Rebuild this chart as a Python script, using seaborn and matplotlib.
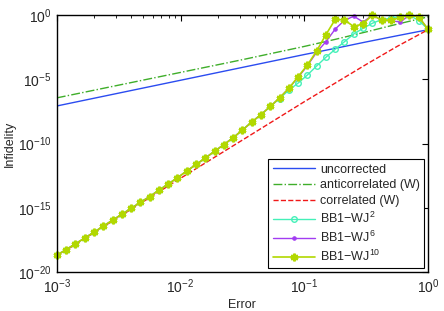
import numpy as np
import pandas as pd
import seaborn as sns
import matplotlib
matplotlib.use("Agg")
import matplotlib.pyplot as plt
from matplotlib.ticker import LogLocator, NullLocator

# log10 of the error, one entry per simulated point
log_err = [-3.0, -2.925, -2.85, -2.775, -2.7, -2.625, -2.55, -2.475, -2.4, -2.325,
           -2.25, -2.175, -2.1, -2.025, -1.95, -1.875, -1.8, -1.725, -1.65, -1.575,
           -1.5, -1.425, -1.35, -1.275, -1.2, -1.125, -1.05, -0.975, -0.9, -0.825,
           -0.75, -0.675, -0.6, -0.525, -0.45, -0.375, -0.3, -0.225, -0.15, -0.075, 0.0]

# log10 infidelity of the BB1-WJ sequences
bb1_common = [-18.68, -18.25, -17.8, -17.35, -16.9, -16.43, -15.96, -15.51, -15.04, -14.58,
              -14.12, -13.63, -13.15, -12.66, -12.14, -11.63, -11.13, -10.6, -10.08, -9.55,
              -8.95, -8.33, -7.75, -7.12]
wj2_tail = [-6.5, -5.85, -5.3, -4.67, -3.97, -3.29, -2.67, -2.08, -1.48, -1.04,
            -0.65, -0.36, -0.25, -0.13, -0.02, -0.44, -1.11]
wj6_tail = [-6.45, -5.71, -4.85, -3.95, -2.9, -2.08, -1.1, -0.42, -0.1, -0.55,
            -0.03, -0.4, -0.45, -0.55, -0.02, -0.15, -1.11]
wj10_tail = [-6.45, -5.71, -4.8, -3.9, -2.8, -1.53, -0.35, -0.39, -0.91, -0.68,
             -0.02, -0.39, -0.42, -0.2, -0.02, -0.15, -1.11]

# reference curves (straight-ish on log-log)
log_err_ref = [-3.0, -2.5, -2.0, -1.5, -1.0, -0.75, -0.5, -0.25, 0.0]
uncorrected = [-7.08, -6.08, -5.08, -4.08, -3.08, -2.6, -2.1, -1.62, -1.15]
anticorr = [-6.45, -5.46, -4.47, -3.48, -2.45, -1.9, -1.32, -0.72, -0.15]
corr = [-18.75, -15.72, -12.7, -9.73, -6.75, -5.3, -3.85, -2.45, -1.15]

err = 10 ** np.array(log_err)
err_ref = 10 ** np.array(log_err_ref)

sns.set_style("white")
plt.rcParams['font.family'] = ['Liberation Sans', 'DejaVu Sans']
plt.rcParams['mathtext.fontset'] = 'custom'
plt.rcParams['mathtext.rm'] = 'Liberation Sans'
plt.rcParams['mathtext.it'] = 'Liberation Sans:italic'

fig = plt.figure(figsize=(4.44, 3.11), dpi=100)
ax = fig.add_axes([0.128, 0.125, 0.836, 0.827])

sns.lineplot(x=err_ref, y=10 ** np.array(uncorrected), ax=ax, color='#2b4cf0',
             lw=1, label='uncorrected')
sns.lineplot(x=err_ref, y=10 ** np.array(anticorr), ax=ax, color='#3fae2a',
             lw=1, ls='-.', label='anticorrelated (W)')
sns.lineplot(x=err_ref, y=10 ** np.array(corr), ax=ax, color='#f01818',
             lw=1, ls='--', label='correlated (W)')
sns.lineplot(x=err, y=10 ** np.array(bb1_common + wj2_tail), ax=ax, color='#44f0b8',
             lw=1, marker='o', ms=4, mfc='none', mec='#44f0b8', mew=1, clip_on=False,
             label='BB1\u2212WJ$^{2}$')
sns.lineplot(x=err, y=10 ** np.array(bb1_common + wj6_tail), ax=ax, color='#a23cf2',
             lw=1, marker='.', ms=5, mec='#a23cf2', clip_on=False, label='BB1\u2212WJ$^{6}$')
sns.lineplot(x=err, y=10 ** np.array(bb1_common + wj10_tail), ax=ax, color='#b2d800',
             lw=1.2, marker=(6, 2, 0), ms=5.5, mew=1.8, mec='#b2d800', clip_on=False,
             label='BB1\u2212WJ$^{10}$')

ax.set_xscale('log')
ax.set_yscale('log')
ax.set_xlim(1e-3, 1)
ax.set_ylim(1e-20, 1)
ax.set_xticks([1e-3, 1e-2, 1e-1, 1])
ax.xaxis.set_minor_locator(LogLocator(base=10, subs=np.arange(2, 10), numticks=20))
ax.set_yticks([1e-20, 1e-15, 1e-10, 1e-5, 1])
ax.yaxis.set_minor_locator(NullLocator())
ax.tick_params(which='both', direction='in', top=True, right=True, labelsize=10,
               color='black', pad=4)
ax.tick_params(which='major', length=4, width=0.8)
ax.tick_params(which='minor', length=2, width=0.6)
for s in ax.spines.values():
    s.set_color('black')
    s.set_linewidth(1)

ax.set_xlabel('Error', fontsize=9, labelpad=2)
ax.set_ylabel('Infidelity', fontsize=9, labelpad=1)

leg = ax.legend(loc='lower right', fontsize=9, frameon=True, fancybox=False,
                edgecolor='black', framealpha=1, borderpad=0.35, labelspacing=0.3,
                handlelength=3.4, handletextpad=0.4, borderaxespad=0.3)
leg.get_frame().set_linewidth(0.8)

fig.savefig('out.png', dpi=100)
